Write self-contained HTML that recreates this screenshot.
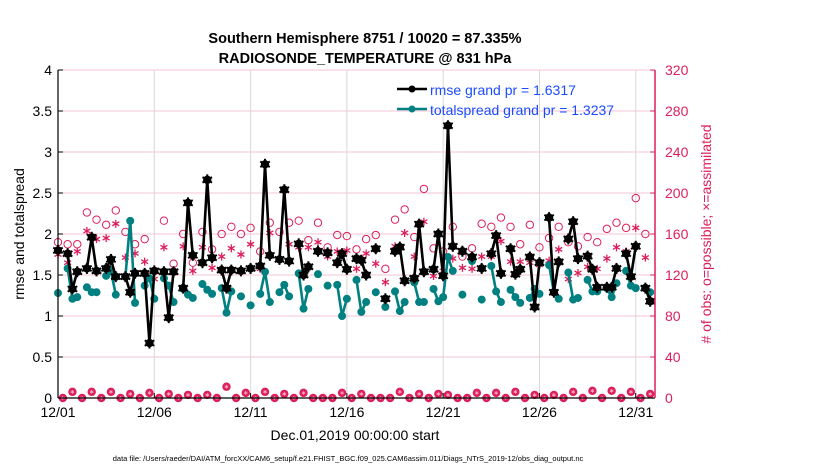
<!DOCTYPE html>
<html><head><meta charset="utf-8"><style>
body{margin:0;background:#fff;}
svg{display:block;font-family:"Liberation Sans",sans-serif;}
</style></head><body>
<svg id="chart" width="830" height="470" viewBox="0 0 830 470">
<g id="grid"></g>
<g id="obs"></g>
<g id="series"></g>
<g id="axes"></g>
<text x="365" y="43" text-anchor="middle" font-size="14.5" font-weight="bold">Southern Hemisphere 8751 / 10020 = 87.335%</text>
<text x="365" y="63" text-anchor="middle" font-size="14.5" font-weight="bold">RADIOSONDE_TEMPERATURE @ 831 hPa</text>
<text transform="translate(24,234) rotate(-90)" text-anchor="middle" font-size="14">rmse and totalspread</text>
<text transform="translate(711,234) rotate(-90)" text-anchor="middle" font-size="14" fill="#dc1f5a"># of obs: o=possible; ×=assimilated</text>
<text x="355" y="440" text-anchor="middle" font-size="14">Dec.01,2019 00:00:00 start</text>
<text x="348" y="461" text-anchor="middle" font-size="7.5">data file: /Users/raeder/DAI/ATM_forcXX/CAM6_setup/f.e21.FHIST_BGC.f09_025.CAM6assim.011/Diags_NTrS_2019-12/obs_diag_output.nc</text>
<g>
<g>
<line x1="397" y1="89" x2="427" y2="89" stroke="#000" stroke-width="2.5"/><circle cx="412" cy="89" r="3.5" fill="#000"/>
<text x="430" y="95" font-size="14" fill="#1a4cff">rmse grand pr = 1.6317</text></g>
<g>
<line x1="397" y1="109" x2="427" y2="109" stroke="#008080" stroke-width="2.5"/><circle cx="412" cy="109" r="3.5" fill="#008080"/>
<text x="430" y="115" font-size="14" fill="#1a4cff">totalspread grand pr = 1.3237</text></g>
</g>
</svg>
<script>
// data
const tickDays = [0,5,10,15,20,25,30];
const tickLabels = ["12/01","12/06","12/11","12/16","12/21","12/26","12/31"];
const leftTicks = [0,0.5,1,1.5,2,2.5,3,3.5,4];
const rightTicks = [0,40,80,120,160,200,240,280,320];
const rmseT = [0,0.5,0.75,1,1.5,1.75,2,2.5,2.75,3,3.5,3.75,4,4.5,4.75,5,5.5,5.75,6,6.5,6.75,7,7.5,7.75,8,8.5,8.75,9,9.5,10,10.5,10.75,11,11.5,11.75,12,12.5,12.75,13,13.5,14,14.5,14.75,15,15.5,15.75,16,16.5,17,17.5,17.75,18,18.5,18.75,19,19.5,19.75,20,20.25,20.5,21,21.5,22,22.5,22.75,23,23.5,23.75,24,24.5,24.75,25,25.5,25.75,26,26.5,26.75,27,27.5,27.75,28,28.5,28.75,29,29.5,29.75,30,30.5,30.75];
const rmse = [1.80,1.76,1.33,1.54,1.58,1.96,1.55,1.58,1.69,1.48,1.48,1.29,1.52,1.52,0.67,1.55,1.54,0.98,1.54,1.34,2.38,1.74,1.65,2.66,1.71,1.56,1.34,1.56,1.55,1.58,1.61,2.85,1.74,1.69,2.54,1.67,1.88,1.50,1.60,1.79,1.77,1.65,1.76,1.57,1.70,1.68,1.50,1.82,1.21,1.79,1.84,1.43,1.46,2.12,1.54,1.57,2.00,1.49,3.32,1.85,1.79,1.72,1.58,1.76,1.98,1.52,1.82,1.51,1.57,1.72,1.11,1.65,2.20,1.29,1.66,1.94,2.15,1.70,1.73,1.57,1.35,1.35,1.35,1.58,1.76,1.48,1.85,1.34,1.18];
const spreadT = rmseT;
const spread = [1.28,1.58,1.21,1.23,1.35,1.29,1.29,1.49,1.55,1.26,1.48,2.16,1.16,1.37,1.46,1.21,1.46,1.37,1.17,1.33,1.26,1.22,1.39,1.32,1.27,1.34,1.04,1.30,1.24,1.13,1.27,1.54,1.17,1.29,1.38,1.24,1.52,1.09,1.33,1.51,1.37,1.38,1.00,1.21,1.44,1.05,1.17,1.29,1.11,1.30,1.06,1.17,1.41,1.17,1.17,1.33,1.18,1.23,1.72,1.55,1.26,1.67,1.20,1.61,1.30,1.17,1.32,1.23,1.16,1.22,1.33,1.27,1.62,1.29,1.21,1.53,1.20,1.22,1.44,1.30,1.30,1.34,1.23,1.40,1.55,1.37,1.34,1.34,1.29];
const obsPossibleMain = [152,150,150,181,174,169,183,162,150,155,124,173,131,160,132,162,145,160,167,160,166,143,171,162,171,173,154,171,147,159,158,145,155,159,126,174,184,157,204,146,143,167,138,146,170,167,176,167,150,169,147,156,167,152,148,157,152,165,171,166,195,160];
const obsAssimMain = [140,132,143,163,155,156,170,137,141,133,116,147,122,148,124,147,127,138,146,140,150,126,161,136,150,147,147,152,138,143,144,126,141,131,113,148,161,138,172,119,124,136,127,126,138,138,153,133,133,132,130,134,145,116,122,128,126,136,147,143,166,137];
const obsOffHours = [0,6,0,6,0,6,0,4,0,5,0,4,0,3,0,3,0,11,0,5,0,6,0,4,0,5,0,0,0,5,0,4,0,0,0,6,0,4,0,4,3,0,0,5,0,5,0,6,0,3,0,3,0,6,0,7,0,7,0,6,0,4];

const NS="http://www.w3.org/2000/svg";
const X0=58,X1=655,Y0=398,Y1=70,DAYS=31;
const xs=t=>X0+t*(X1-X0)/DAYS;
const yL=v=>Y0-v*(Y0-Y1)/4;
const yR=v=>Y0-v*(Y0-Y1)/320;
function mk(tag,attrs,parent){const e=document.createElementNS(NS,tag);for(const k in attrs)e.setAttribute(k,attrs[k]);parent.appendChild(e);return e;}
const grid=document.getElementById('grid'),axes=document.getElementById('axes'),obs=document.getElementById('obs'),ser=document.getElementById('series');
rightTicks.forEach((v,i)=>{if(i===0)return;const l=mk('line',{x1:X0,x2:X1,y1:yR(v),y2:yR(v),stroke:'#f4c6d4','stroke-width':1},grid);

});
tickDays.forEach((d,i)=>{const l=mk('line',{x1:xs(d),x2:xs(d),y1:Y1,y2:Y0,stroke:'#d8d8d8','stroke-width':1},grid);


const tk=mk('line',{x1:xs(d),x2:xs(d),y1:Y0,y2:Y0-5,stroke:'#000'},axes);


const t=mk('text',{x:xs(d),y:417,'text-anchor':'middle','font-size':14},axes);t.textContent=tickLabels[i];

});
leftTicks.forEach(v=>{const tk=mk('line',{x1:X0,x2:X0+5,y1:yL(v),y2:yL(v),stroke:'#000'},axes);


const t=mk('text',{x:X0-6,y:yL(v)+5,'text-anchor':'end','font-size':14},axes);t.textContent=String(v);

});
rightTicks.forEach(v=>{const tk=mk('line',{x1:X1,x2:X1-5,y1:yR(v),y2:yR(v),stroke:'#dc1f5a'},axes);


const t=mk('text',{x:X1+10,y:yR(v)+5,'font-size':14,fill:'#dc1f5a'},axes);t.textContent=String(v);

});
const la=mk('line',{x1:X0,x2:X0,y1:Y1,y2:Y0,stroke:'#000','stroke-width':1.2},axes);


const ba=mk('line',{x1:X0,x2:X1,y1:Y0,y2:Y0,stroke:'#000','stroke-width':1.2},axes);


const ra=mk('line',{x1:X1,x2:X1,y1:Y1,y2:Y0,stroke:'#dc1f5a','stroke-width':1.5},axes);



function star(x,y,parent,col,r,w){const g=mk('g',{},parent);for(let a=0;a<3;a++){const ang=a*Math.PI/3+Math.PI/2;mk('line',{x1:x-r*Math.cos(ang),y1:y-r*Math.sin(ang),x2:x+r*Math.cos(ang),y2:y+r*Math.sin(ang),stroke:col,'stroke-width':w||1.3},g);}return g;}
const C='#dc1f5a';
obsPossibleMain.forEach((v,i)=>{const c=mk('circle',{cx:xs(i*0.5),cy:yR(v),r:3.7,fill:'none',stroke:C,'stroke-width':1},obs);

});
obsAssimMain.forEach((v,i)=>{const g=star(xs(i*0.5),yR(v),obs,C,4);

});
obsOffHours.forEach((v,i)=>{const x=xs(0.25+i*0.5),y=yR(v);
const c=mk('circle',{cx:x,cy:y,r:3.7,fill:C,stroke:C,'stroke-width':1},obs);


const g=star(x,y,obs,'#f7b8cb',2,0.7);

});

function drawSeries(ts,vs,col,name,isStar){
  let segs=[],cur=[];
  ts.forEach((t,i)=>{if(i>0&&t-ts[i-1]>0.3){segs.push(cur);cur=[];}cur.push([xs(t),yL(vs[i])]);});
  segs.push(cur);
  segs.forEach(s=>{if(s.length<2)return;const p=mk('polyline',{points:s.map(q=>q.join(',')).join(' '),fill:'none',stroke:col,'stroke-width':2.6,'stroke-linejoin':'round'},ser);
  
  });
  ts.forEach((t,i)=>{const x=xs(t),y=yL(vs[i]);
    const c=mk('circle',{cx:x,cy:y,r:isStar?4.2:4,fill:col},ser);
    
    
    if(isStar){star(x,y,ser,col,5.5,2);}
  });
}
drawSeries(spreadT,spread,'#008080','totalspread',false);
drawSeries(rmseT,rmse,'#000','rmse',true);
</script>
</body></html>
